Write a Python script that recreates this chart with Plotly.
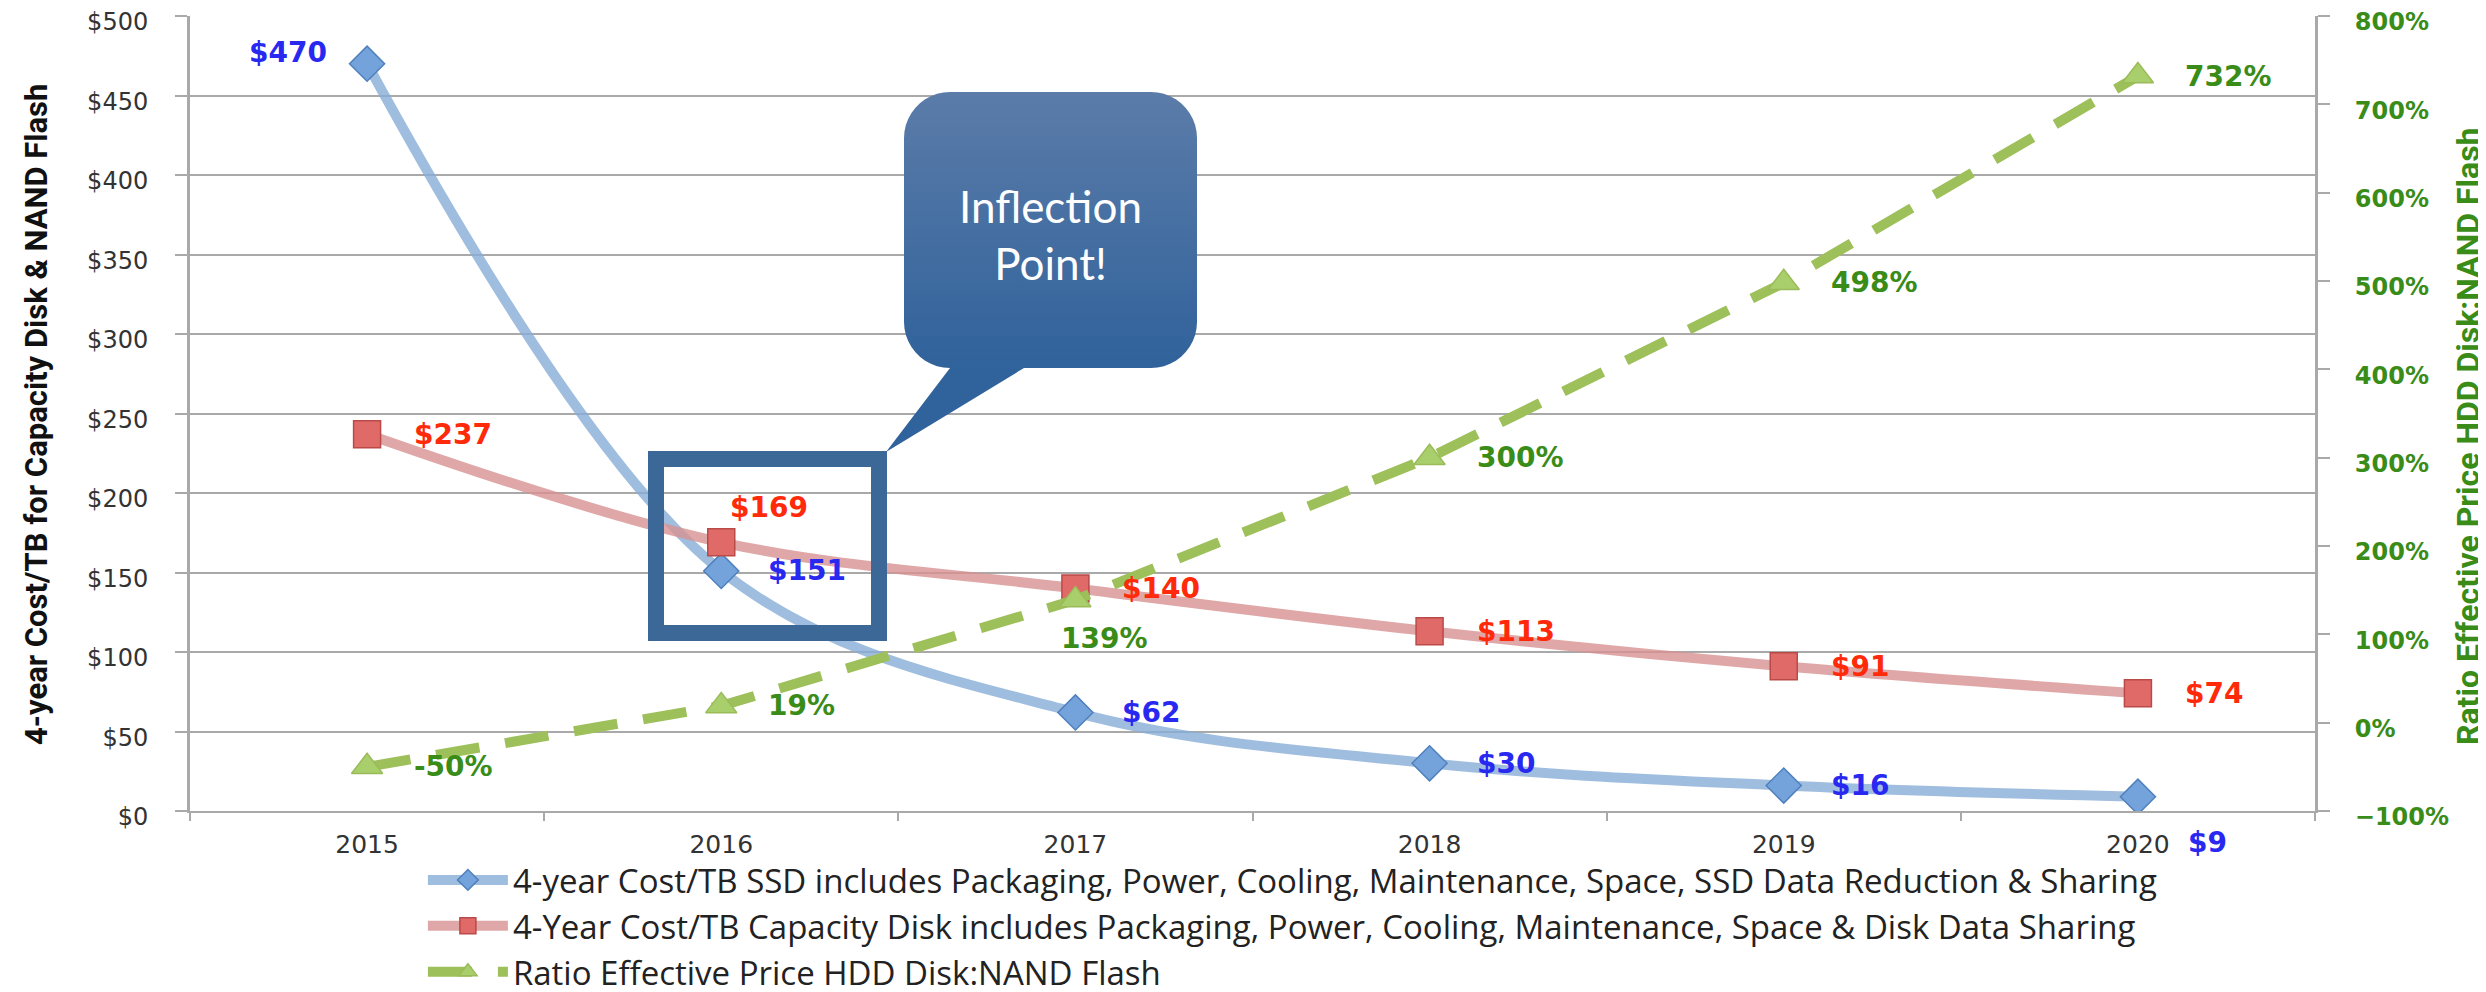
import numpy as np
import plotly.graph_objects as go

years = ["2015", "2016", "2017", "2018", "2019", "2020"]
ssd_cost = [470, 151, 62, 30, 16, 9]
disk_cost = [237, 169, 140, 113, 91, 74]
ratio_pct = [-50, 19, 139, 300, 498, 732]

ssd_name = "4-year Cost/TB SSD includes Packaging, Power, Cooling, Maintenance, Space, SSD Data Reduction & Sharing"
disk_name = "4-Year Cost/TB Capacity Disk includes Packaging, Power, Cooling, Maintenance, Space & Disk Data Sharing"
ratio_name = "Ratio Effective Price HDD Disk:NAND Flash"
left_title = "4-year Cost/TB for Capacity Disk & NAND Flash"
right_title = "Ratio Effective Price HDD Disk:NAND Flash"
callout_text = "Inflection<br>Point!"

W, H = 2486, 992
OFF = 8  # page body offset
# plot area in page pixels
PX0, PX1 = 190, 2315
PY0, PY1 = 16, 811
ML, MT = PX0 - OFF, PY0 - OFF
MR, MB = W + OFF - PX1, H + OFF - PY1

LABEL_FONT = "DejaVu Sans"
BLUE_T, RED_T, GREEN_T = "#2828f0", "#ff2a0a", "#3a8c18"
GRID = "#a9a9a9"

fig = go.Figure()

fig.add_trace(go.Scatter(
    x=years, y=ssd_cost, name=ssd_name, legendgroup="a",
    mode="lines+markers",
    line=dict(color="rgba(135,172,214,0.8)", width=10, shape="spline", smoothing=1.0),
    marker=dict(symbol="diamond", size=27, color="#74a3dc", line=dict(color="#4f81bd", width=1.5)),
))
fig.add_trace(go.Scatter(
    x=years, y=disk_cost, name=disk_name, legendgroup="b",
    mode="lines+markers",
    line=dict(color="rgba(215,145,145,0.8)", width=10, shape="spline", smoothing=1.0),
    marker=dict(symbol="square", size=27, color="#e06a68", line=dict(color="#b94a48", width=1.5)),
))
fig.add_trace(go.Scatter(
    x=years, y=ratio_pct, name=ratio_name, legendgroup="c", yaxis="y2",
    mode="lines+markers",
    line=dict(color="#9dc05a", width=10, dash="44px,26px"),
    marker=dict(symbol="triangle-up", size=27, color="#a8cf6c", line=dict(color="#9bbb59", width=1.5)),
))

# data labels: (anchor, xshift, yshift) per point
ssd_pos = [("right", -38, 11), ("left", 45, 0), ("left", 45, 0), ("left", 45, 0), ("left", 45, 0), ("left", 48, -46)]
disk_pos = [("left", 45, 0), ("center", 48, 35), ("left", 45, 0), ("left", 45, 0), ("left", 45, 0), ("left", 45, 0)]
ratio_pos = [("left", 45, 0), ("left", 45, 0), ("center", 29, -39), ("left", 45, 0), ("left", 45, 0), ("left", 45, 0)]

for vals, pos, yref, fmt, col in [
    (ssd_cost, ssd_pos, "y", "${}", BLUE_T),
    (disk_cost, disk_pos, "y", "${}", RED_T),
    (ratio_pct, ratio_pos, "y2", "{}%", GREEN_T),
]:
    for i, (v, (anc, dx, dy)) in enumerate(zip(vals, pos)):
        fig.add_annotation(x=i, y=v, xref="x", yref=yref, text=fmt.format(v),
                           showarrow=False, xanchor=anc, yanchor="middle",
                           xshift=dx, yshift=dy,
                           font=dict(family=LABEL_FONT, size=28, color=col, weight="bold"))

# Callout bubble (page-pixel coordinates on a hidden overlay axis pair)
bx0, bx1, by0, by1, r = 904, 1197, 92, 368, 46
def arc(cx, cy, a0, a1):
    t = np.linspace(np.radians(a0), np.radians(a1), 12)
    return list(cx + r * np.cos(t)), list(cy + r * np.sin(t))
xs, ys = [], []
for cx, cy, a0, a1 in [(bx0 + r, by0 + r, 180, 270), (bx1 - r, by0 + r, 270, 360),
                       (bx1 - r, by1 - r, 0, 90)]:
    ax_, ay_ = arc(cx, cy, a0, a1)
    xs += ax_; ys += ay_
xs += [1024, 886, 950]; ys += [by1, 452, by1]
ax_, ay_ = arc(bx0 + r, by1 - r, 90, 180)
xs += ax_; ys += ay_
xs.append(xs[0]); ys.append(ys[0])
fig.add_trace(go.Scatter(
    x=xs, y=ys, xaxis="x3", yaxis="y3", mode="lines", fill="toself",
    line=dict(width=0, color="rgba(0,0,0,0)"),
    fillgradient=dict(type="vertical", start=by0, stop=by1,
                      colorscale=[[0, "#5b7ca9"], [1, "#30629b"]]),
    showlegend=False, hoverinfo="skip",
))

fig.update_layout(
    width=W, height=H,
    margin=dict(l=ML, r=MR, t=MT, b=MB, autoexpand=False),
    paper_bgcolor="white", plot_bgcolor="white",
    xaxis=dict(type="category", range=[-0.5, 5.5], showgrid=False,
               showline=True, linecolor=GRID, linewidth=2,
               ticks="outside", tickson="boundaries", ticklen=8, tickcolor=GRID, tickwidth=2,
               tickfont=dict(family=LABEL_FONT, size=25, color="#333333"),
               ticklabelstandoff=10, ticklabeloverflow="allow"),
    yaxis=dict(range=[0, 500], dtick=50, tickprefix="$",
               showgrid=True, gridcolor=GRID, gridwidth=2,
               showline=True, linecolor=GRID, linewidth=3,
               ticks="outside", ticklen=12, tickcolor=GRID, tickwidth=2,
               tickfont=dict(family=LABEL_FONT, size=24, color="#333333"),
               ticklabelstandoff=22, ticklabelshift=6, zeroline=False, ticklabeloverflow="allow"),
    yaxis2=dict(range=[-100, 800], dtick=100, ticksuffix="%", overlaying="y", side="right",
                showgrid=False, showline=True, linecolor=GRID, linewidth=3,
                ticks="outside", ticklen=12, tickcolor=GRID, tickwidth=2,
                tickfont=dict(family=LABEL_FONT, size=24, color=GREEN_T, weight="bold"),
                ticklabelstandoff=20, ticklabelshift=6, zeroline=False, ticklabeloverflow="allow"),
    xaxis3=dict(overlaying="x", range=[PX0, PX1], visible=False, fixedrange=True),
    yaxis3=dict(overlaying="y", range=[PY1, PY0], visible=False, fixedrange=True),
    legend=dict(orientation="v", x=0.1096, xanchor="left", y=-0.0515, yanchor="top",
                font=dict(family="Open Sans", size=33, color="#222222"),
                itemwidth=80, tracegroupgap=0, bgcolor="rgba(0,0,0,0)"),
    showlegend=True,
)

fig.add_shape(type="rect", xref="x3", yref="y3", x0=656, x1=879, y0=459, y1=633,
              line=dict(color="#3c6898", width=16), fillcolor="rgba(0,0,0,0)")

fig.add_annotation(xref="x3", yref="y3", x=1050, y=234, text=callout_text, showarrow=False,
                   font=dict(family="Lato", size=44, color="white"), align="center")

fig.add_annotation(xref="paper", yref="paper", x=(36 - PX0) / (PX1 - PX0), y=(PY1 - 415) / (PY1 - PY0),
                   xanchor="center", yanchor="middle",
                   text=left_title, textangle=-90, showarrow=False,
                   font=dict(family="Liberation Sans Narrow, Roboto, sans-serif", size=31, color="#111111", weight="bold"))
fig.add_annotation(xref="paper", yref="paper", x=(2468 - PX0) / (PX1 - PX0), y=(PY1 - 436) / (PY1 - PY0),
                   xanchor="center", yanchor="middle",
                   text=right_title, textangle=-90, showarrow=False,
                   font=dict(family="Liberation Sans Narrow, Roboto, sans-serif", size=32, color="#3a8c18", weight="bold"))

fig.write_html("out.html")
